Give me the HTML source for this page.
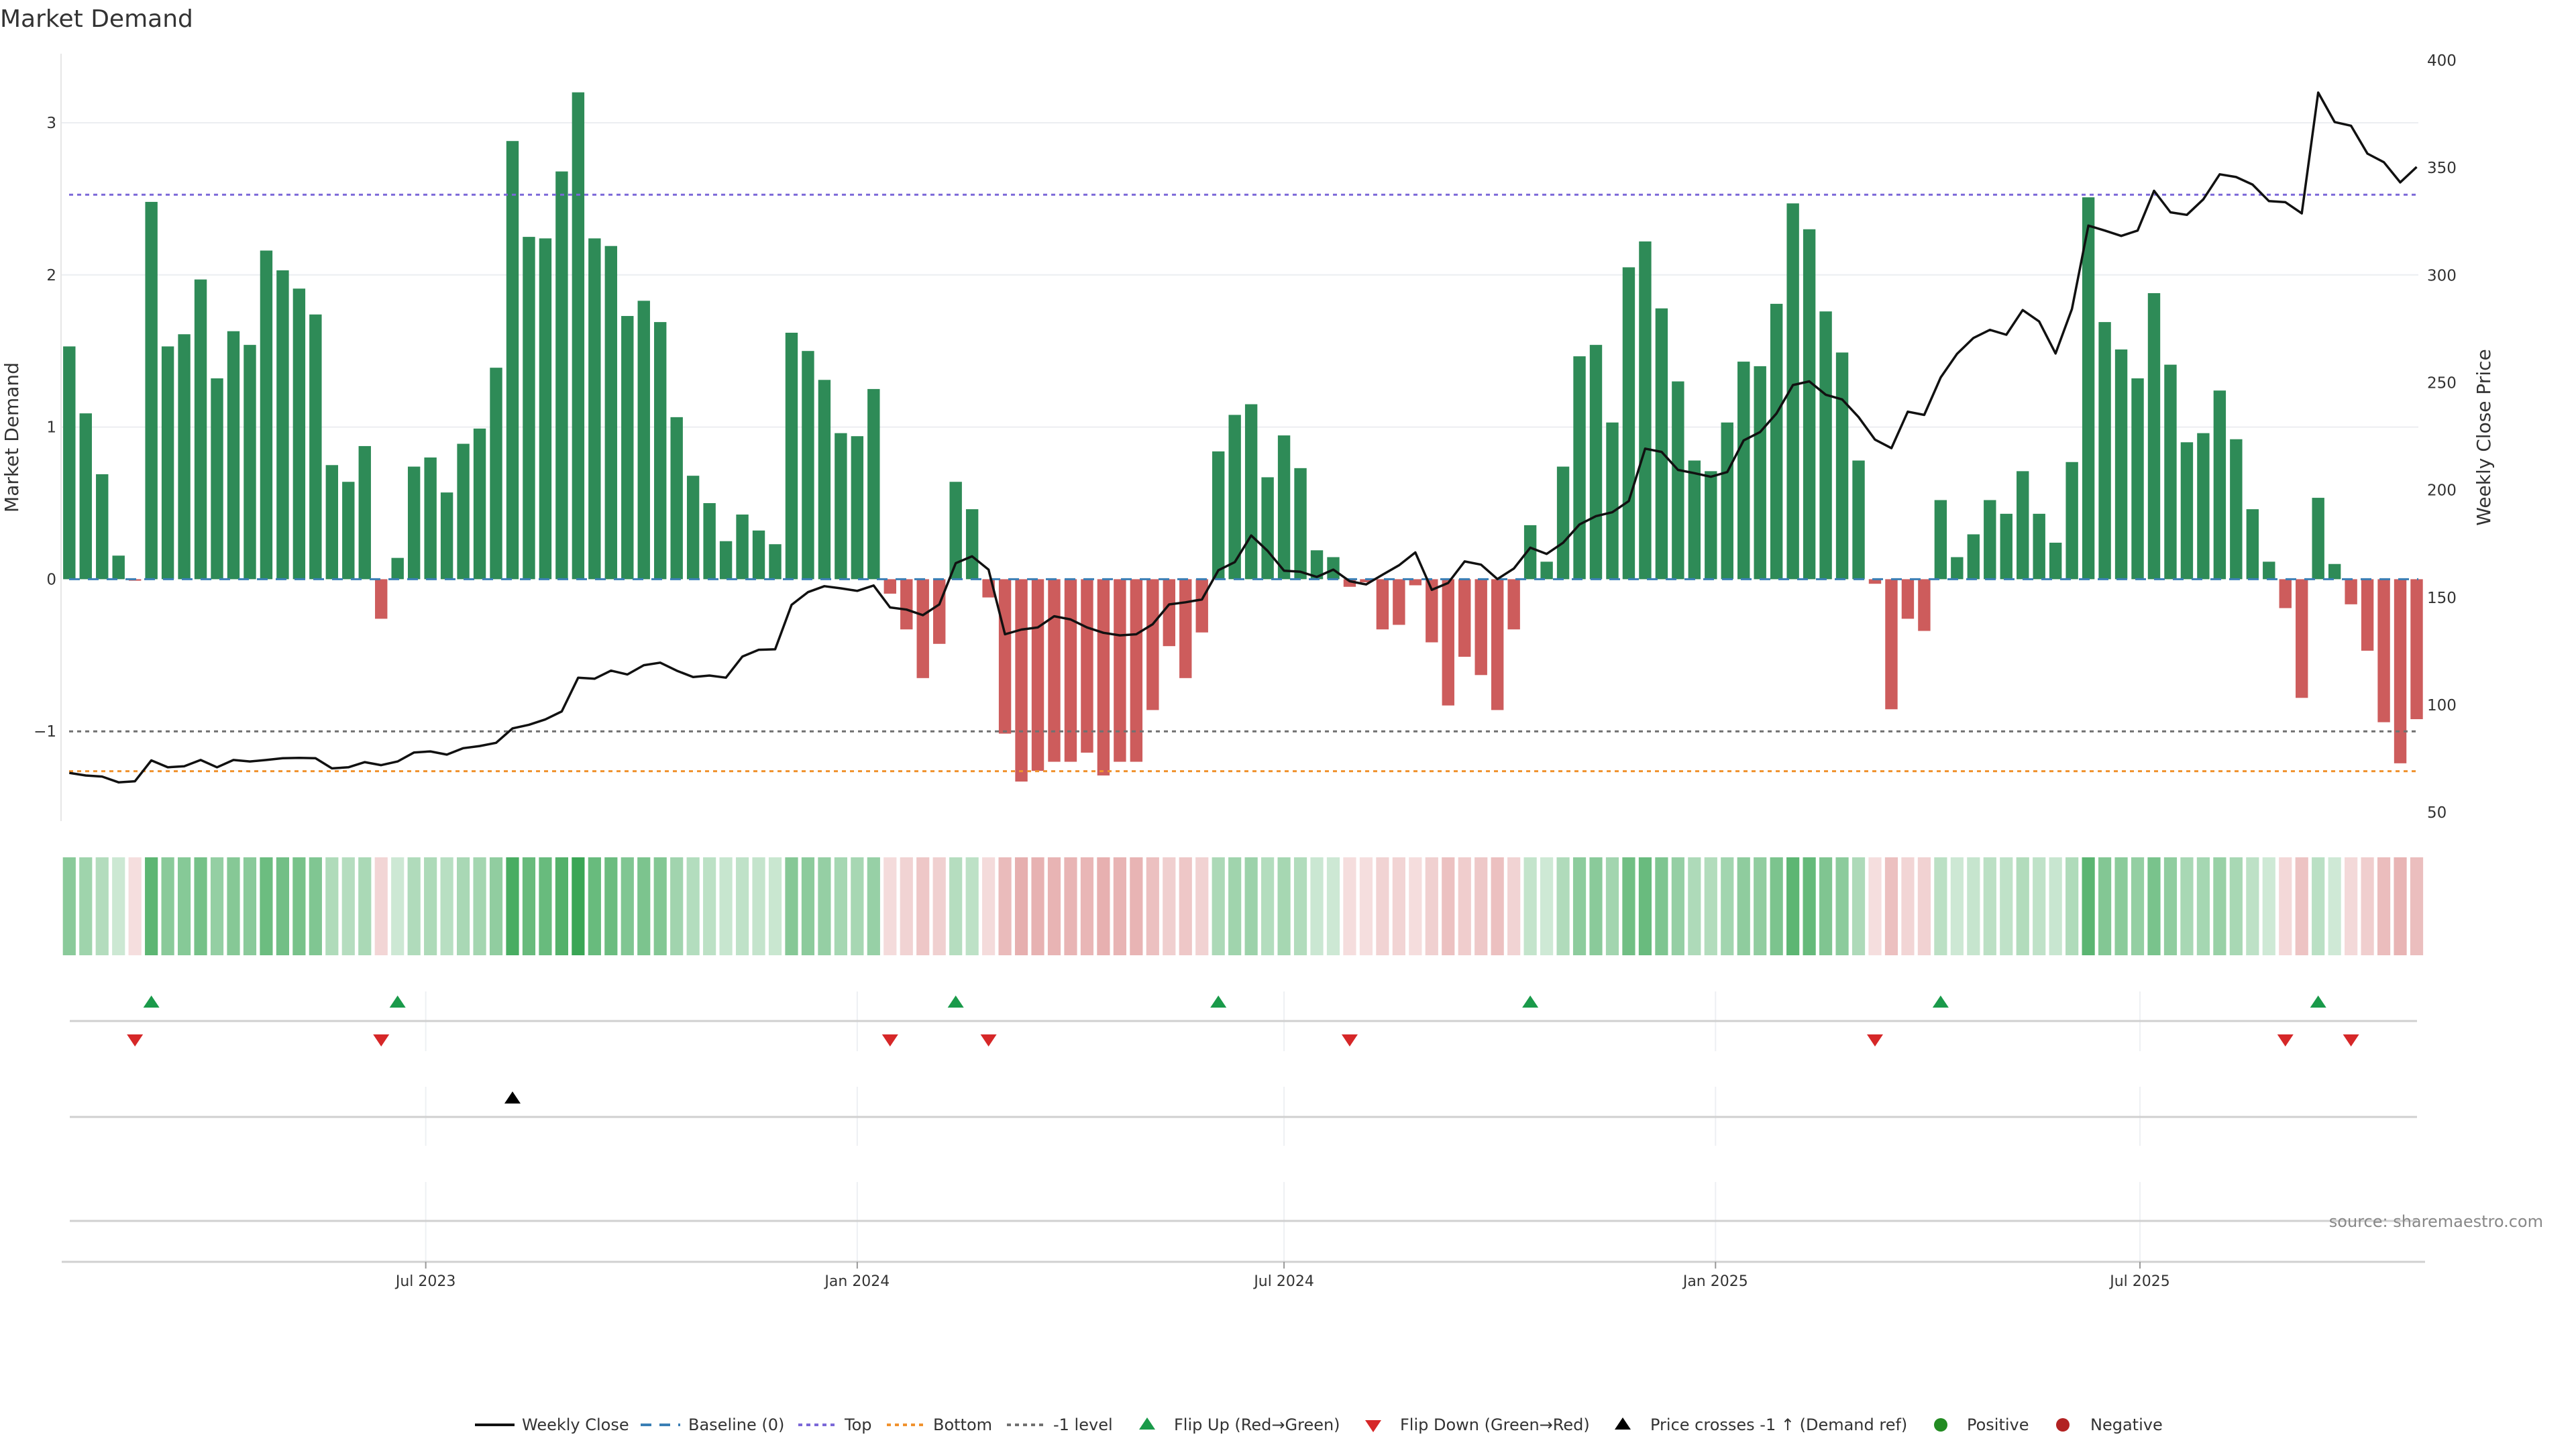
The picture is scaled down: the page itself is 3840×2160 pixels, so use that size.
<!DOCTYPE html>
<html><head><meta charset="utf-8"><style>
html,body{margin:0;padding:0;background:#fff;}
svg{display:block;font-family:"DejaVu Sans","Liberation Sans",sans-serif;}
</style></head><body>
<svg id="chart" width="3840" height="2160" viewBox="0 0 3840 2160" xmlns="http://www.w3.org/2000/svg">
<text x="0" y="40" font-size="36" fill="#333">Market Demand</text>
<g id="main"></g>
<g id="heat"></g>
<g id="flips"></g>
<g id="cross"></g>
<g id="xaxis"></g>
<g id="legend"></g>
<text x="3791" y="1829" font-size="24" fill="#888" text-anchor="end">source: sharemaestro.com</text>
</svg>
<script>
const demand = [
1.53,1.09,0.69,0.155,-0.01,2.48,1.53,1.61,1.97,1.32,
1.63,1.54,2.16,2.03,1.91,1.74,0.75,0.64,0.875,-0.26,
0.14,0.74,0.80,0.57,0.89,0.99,1.39,2.88,2.25,2.24,
2.68,3.20,2.24,2.19,1.73,1.83,1.69,1.065,0.68,0.50,
0.25,0.425,0.32,0.23,1.62,1.50,1.31,0.96,0.94,1.25,
-0.095,-0.33,-0.65,-0.425,0.64,0.46,-0.12,-1.015,-1.33,-1.26,
-1.20,-1.20,-1.14,-1.29,-1.20,-1.20,-0.86,-0.44,-0.65,-0.35,
0.84,1.08,1.15,0.67,0.945,0.73,0.19,0.145,-0.05,-0.02,
-0.33,-0.30,-0.04,-0.415,-0.83,-0.51,-0.63,-0.86,-0.33,0.355,
0.115,0.74,1.465,1.54,1.03,2.05,2.22,1.78,1.30,0.78,
0.71,1.03,1.43,1.40,1.81,2.47,2.30,1.76,1.49,0.78,
-0.03,-0.855,-0.26,-0.34,0.52,0.145,0.295,0.52,0.43,0.71,
0.43,0.24,0.77,2.51,1.69,1.51,1.32,1.88,1.41,0.90,
0.96,1.24,0.92,0.46,0.115,-0.19,-0.78,0.535,0.10,-0.165,
-0.47,-0.94,-1.21,-0.92];
const price = [
68.4,67.2,66.7,64.0,64.5,74.2,71.0,71.5,74.4,71.0,
74.4,73.7,74.4,75.2,75.4,75.2,70.5,71.0,73.4,72.0,
73.7,77.9,78.4,76.9,79.9,80.9,82.4,89.1,90.8,93.3,
97.0,112.7,112.2,116.0,114.2,118.5,119.7,116.0,113.0,113.7,
112.7,122.5,125.7,125.9,146.6,152.5,155.3,154.3,153.1,155.6,
145.4,144.4,141.8,146.8,166.0,169.2,163.0,132.9,135.1,136.1,
141.3,139.8,136.1,133.6,132.4,132.9,137.6,146.8,147.8,149.1,
162.7,166.5,178.9,171.7,162.5,162.0,159.6,163.0,157.6,156.1,
160.6,165.0,171.0,153.6,156.8,166.8,165.3,158.6,163.5,173.2,
170.3,175.5,184.0,187.9,189.7,194.9,219.3,217.8,209.4,207.9,
206.2,208.4,223.1,227.0,235.7,248.9,250.6,244.4,242.2,234.0,
223.5,219.5,236.5,235.0,252.4,263.4,270.8,274.6,272.3,283.8,
278.5,263.6,284.3,323.1,320.8,318.3,320.8,339.3,329.3,328.1,
335.3,347.0,345.7,342.2,334.5,334.0,328.8,385.0,371.3,369.6,
356.6,352.6,343.2,350.4];
const leftTicks = [3,2,1,0,-1];
const leftTickLabels = ["3","2","1","0","\u22121"];
const rightTicks = [400,350,300,250,200,150,100,50];
const xTickDates = ["2023-07-01","2024-01-01","2024-07-01","2025-01-01","2025-07-01"];
const xTickLabels = ["Jul 2023","Jan 2024","Jul 2024","Jan 2025","Jul 2025"];
const startDate = "2023-01-30";
const topLevel = 2.527, bottomLevel = -1.262, minusLevel = -1;

const NS="http://www.w3.org/2000/svg";
function mk(tag, attrs, parent, txt){const e=document.createElementNS(NS,tag);for(const k in attrs)e.setAttribute(k,attrs[k]);if(txt!==undefined)e.textContent=txt;parent.appendChild(e);return e;}
const X0=103.3, STEP=24.47;
const xi = i => X0 + i*STEP;
const xd = d => X0 + (new Date(d) - new Date(startDate))/(7*864e5)*STEP;
const yL = v => 863.4 - v*226.8;
const yR = p => 90 + (400-p)*3.203;
const PL=91, PR=3615;

const main=document.getElementById('main');
leftTicks.forEach((t,k)=>{
  if(t>0){const g=mk('line',{x1:PL,x2:3605,y1:yL(t),y2:yL(t),stroke:'#eceef1','stroke-width':2},main);
  }
  const l=mk('text',{x:84,y:yL(t)+8,'font-size':23,fill:'#333','text-anchor':'end'},main,leftTickLabels[k]);
  
});
rightTicks.forEach(t=>{
  const l=mk('text',{x:3618,y:yR(t)+8,'font-size':23,fill:'#333'},main,String(t));
  
});
const sp=mk('line',{x1:PL,x2:PL,y1:80,y2:1224,stroke:'#e6e6e6','stroke-width':2},main);

const at1=mk('text',{x:0,y:0,'font-size':28,fill:'#333','text-anchor':'middle',transform:'translate(27,652) rotate(-90)'},main,'Market Demand');

const at2=mk('text',{x:0,y:0,'font-size':28,fill:'#333','text-anchor':'middle',transform:'translate(3712,652) rotate(-90)'},main,'Weekly Close Price');

demand.forEach((v,i)=>{
  const y0=yL(0),y1=yL(v);
  const b=mk('rect',{x:xi(i)-9.2,y:Math.min(y0,y1),width:18.4,height:Math.max(1.5,Math.abs(y1-y0)),fill:v>=0?'#2e8b57':'#cd5c5c'},main);
  
});
function hline(v,color,dash,name){const l=mk('line',{x1:PL+12,x2:3605,y1:yL(v),y2:yL(v),stroke:color,'stroke-width':3,'stroke-dasharray':dash},main);
  }
hline(topLevel,'#7b68d8','6 6','top-line');
hline(bottomLevel,'#f0922e','6 6','bottom-line');
hline(minusLevel,'#707070','6 6','minus-one-line');
hline(0,'#3a7fb5','16 12','baseline-zero');
const pts=price.map((p,i)=>xi(i).toFixed(1)+','+yR(p).toFixed(1)).join(' ');
const pl=mk('polyline',{points:pts,fill:'none',stroke:'#111','stroke-width':3.5,'stroke-linejoin':'round'},main);


const heat=document.getElementById('heat');
const vmax=Math.max(...demand.map(Math.abs));
demand.forEach((v,i)=>{
  const a=0.22+0.78*Math.abs(v)/vmax;
  const c=mk('rect',{x:xi(i)-9.6,y:1278,width:19.2,height:146,fill:v>=0?'#3aa655':'#cd5c5c','fill-opacity':(v>=0?a:a*0.9).toFixed(3)},heat);
  
});

const flips=document.getElementById('flips'), cross=document.getElementById('cross'), xaxis=document.getElementById('xaxis');
[[flips,1478,1567,1522],[cross,1620,1708,1665],[xaxis,1762,1880,1820]].forEach(([g,a,b,ly])=>{
  xTickDates.forEach(d=>{const l=mk('line',{x1:xd(d),x2:xd(d),y1:a,y2:b,stroke:'#eef0f3','stroke-width':2},g);
    });
  const l=mk('line',{x1:104,x2:3603,y1:ly,y2:ly,stroke:'#d0d0d0','stroke-width':3},g);
  
});
function tri(g,x,y,up,color,name){
  const p=up?`${x-12},${y+9} ${x+12},${y+9} ${x},${y-9}`:`${x-12},${y-9} ${x+12},${y-9} ${x},${y+9}`;
  const t=mk('polygon',{points:p,fill:color},g);
  
}
for(let i=1;i<demand.length;i++){
  if(demand[i-1]<0&&demand[i]>=0) tri(flips,xi(i),1493,true,'#1a9a4a','flip-up-marker');
  if(demand[i-1]>=0&&demand[i]<0) tri(flips,xi(i),1551,false,'#d62728','flip-down-marker');
}
const crossPrice = 400-(yL(minusLevel)-90)/3.203;
for(let i=1;i<price.length;i++){
  if(price[i-1]<crossPrice&&price[i]>=crossPrice) tri(cross,xi(i),1636,true,'#000','price-cross-marker');
}
const xl=mk('line',{x1:92,x2:3615,y1:1881,y2:1881,stroke:'#d0d0d0','stroke-width':3},xaxis);

xTickDates.forEach((d,k)=>{
  const t=mk('line',{x1:xd(d),x2:xd(d),y1:1881,y2:1891,stroke:'#999','stroke-width':2},xaxis);
  
  const l=mk('text',{x:xd(d),y:1917,'font-size':22,fill:'#333','text-anchor':'middle'},xaxis,xTickLabels[k]);
  
});

const lg=document.getElementById('legend');
const LY=2124;
function ltext(x,s){const t=mk('text',{x:x,y:LY+8,'font-size':24,fill:'#333'},lg,s);}
function lline(x,color,dash,w){const l=mk('line',{x1:x,x2:x+59,y1:LY,y2:LY,stroke:color,'stroke-width':w,'stroke-dasharray':dash},lg);}
lline(708,'#111','none',4);ltext(778,'Weekly Close');
lline(955,'#3a7fb5','16 12',4);ltext(1026,'Baseline (0)');
lline(1190,'#7b68d8','6 6',4);ltext(1259,'Top');
lline(1322,'#f0922e','6 6',4);ltext(1391,'Bottom');
lline(1501,'#707070','6 6',4);ltext(1570,'-1 level');
tri(lg,1710,LY-2,true,'#1a9a4a','legend-flip-up');ltext(1750,'Flip Up (Red\u2192Green)');
tri(lg,2047,LY+2,false,'#d62728','legend-flip-down');ltext(2087,'Flip Down (Green\u2192Red)');
tri(lg,2419,LY-2,true,'#000','legend-price-cross');ltext(2460,'Price crosses -1 \u2191 (Demand ref)');
const d1=mk('circle',{cx:2893,cy:LY,r:10,fill:'#228b22'},lg);
ltext(2932,'Positive');
const d2=mk('circle',{cx:3075,cy:LY,r:10,fill:'#b22222'},lg);
ltext(3116,'Negative');
</script>
</body></html>
